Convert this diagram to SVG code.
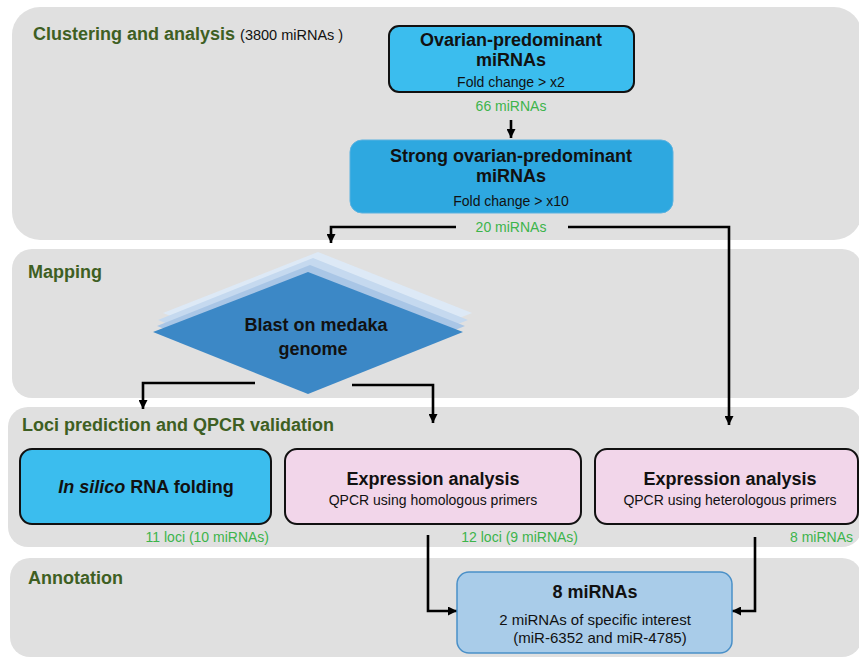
<svg xmlns="http://www.w3.org/2000/svg" width="859" height="659" viewBox="0 0 859 659">
<defs>
<style>
.panel{fill:#e0e0e0}
.ptitle{font-family:"Liberation Sans",Arial,sans-serif;font-weight:bold;font-size:18px;fill:#3e5f23}
.b18{font-family:"Liberation Sans",Arial,sans-serif;font-weight:bold;font-size:18px;fill:#111}
.r14{font-family:"Liberation Sans",Arial,sans-serif;font-size:14px;fill:#111}
.r15{font-family:"Liberation Sans",Arial,sans-serif;font-size:15px;fill:#111}
.g14{font-family:"Liberation Sans",Arial,sans-serif;font-size:14px;fill:#3cb44b}
.conn{fill:none;stroke:#000;stroke-width:2.6;marker-end:url(#ah)}
</style>
<marker id="ah" viewBox="0 0 10 10" refX="10" refY="5" markerWidth="9" markerHeight="9" markerUnits="userSpaceOnUse" orient="auto">
<path d="M0,0 L10,5 L0,10 z" fill="#000"/>
</marker>
</defs>
<rect width="859" height="659" fill="#fff"/>
<g id="panels">
<rect class="panel" x="12" y="7" width="850" height="233" rx="28"/>
<rect class="panel" x="12" y="249" width="850" height="149" rx="20"/>
<rect class="panel" x="8" y="407" width="854" height="140" rx="20"/>
<rect class="panel" x="10" y="558" width="852" height="99" rx="20"/>
<text class="ptitle" x="33" y="40">Clustering and analysis <tspan style="font-weight:normal;font-size:14.5px;fill:#111">(3800 miRNAs )</tspan></text>
<text class="ptitle" x="28" y="278">Mapping</text>
<text class="ptitle" x="22" y="431">Loci prediction and QPCR validation</text>
<text class="ptitle" x="28" y="584">Annotation</text>
</g>
<g id="connectors">
<path class="conn" d="M511,120 V138"/>
<path class="conn" d="M456,227 H331 V243"/>
<path class="conn" d="M568,227 H729 V425"/>
<path class="conn" d="M255,383 H143 V409"/>
<path class="conn" d="M352,385 H433 V423"/>
<path class="conn" d="M428,535 V611 H457"/>
<path class="conn" d="M755,537 V611 H732"/>
</g>
<g id="ovarian">
<rect x="389" y="26" width="245" height="66" rx="10" fill="#3bbdee" stroke="#111" stroke-width="2"/>
<text class="b18" x="511" y="46" text-anchor="middle">Ovarian-predominant</text>
<text class="b18" x="511" y="66" text-anchor="middle">miRNAs</text>
<text class="r14" x="511" y="87" text-anchor="middle">Fold change &gt; x2</text>
<text class="g14" x="511" y="111" text-anchor="middle">66 miRNAs</text>
</g>
<g id="strong">
<rect x="350" y="140" width="323" height="73" rx="12" fill="#2ea8e0" stroke="#5ab2e0" stroke-width="1"/>
<text class="b18" x="511" y="162" text-anchor="middle">Strong ovarian-predominant</text>
<text class="b18" x="511" y="182" text-anchor="middle">miRNAs</text>
<text class="r14" x="511" y="206" text-anchor="middle">Fold change &gt; x10</text>
<text class="g14" x="511" y="232" text-anchor="middle">20 miRNAs</text>
</g>
<g id="blast">
<polygon points="318,252 472,313 318,374 163,313" fill="#dde9f6"/>
<polygon points="313,258 468,320 313,382 158,320" fill="#c5d9ef"/>
<polygon points="310,265 465,326 310,388 157,326" fill="#a9c6e6"/>
<polygon points="308,272 463,332 308,394 153,332" fill="#3c88c6"/>
<text class="b18" x="316" y="331" text-anchor="middle">Blast on medaka</text>
<text class="b18" x="313" y="355" text-anchor="middle">genome</text>
</g>
<g id="insilico">
<rect x="20" y="449" width="251" height="75" rx="12" fill="#3bbdee" stroke="#111" stroke-width="2"/>
<text class="b18" x="146" y="493" text-anchor="middle"><tspan font-style="italic">In silico</tspan> RNA folding</text>
<text class="g14" x="269" y="542" text-anchor="end">11 loci (10 miRNAs)</text>
</g>
<g id="homologous">
<rect x="285" y="449" width="296" height="75" rx="12" fill="#f2d6ea" stroke="#111" stroke-width="2"/>
<text class="b18" x="433" y="485" text-anchor="middle">Expression analysis</text>
<text class="r14" x="433" y="505" text-anchor="middle">QPCR using homologous primers</text>
<text class="g14" x="578" y="542" text-anchor="end">12 loci (9 miRNAs)</text>
</g>
<g id="heterologous">
<rect x="595" y="449" width="263" height="75" rx="12" fill="#f2d6ea" stroke="#111" stroke-width="2"/>
<text class="b18" x="730" y="485" text-anchor="middle">Expression analysis</text>
<text class="r14" x="730" y="505" text-anchor="middle">QPCR using heterologous primers</text>
<text class="g14" x="853" y="542" text-anchor="end">8 miRNAs</text>
</g>
<g id="result">
<rect x="457" y="572" width="275" height="81" rx="12" fill="#a9cce9" stroke="#4a90c8" stroke-width="1.5"/>
<text class="b18" x="595" y="598" text-anchor="middle">8 miRNAs</text>
<text class="r15" x="595" y="625" text-anchor="middle">2 miRNAs of specific interest</text>
<text class="r15" x="600" y="643" text-anchor="middle">(miR-6352 and miR-4785)</text>
</g>
</svg>
